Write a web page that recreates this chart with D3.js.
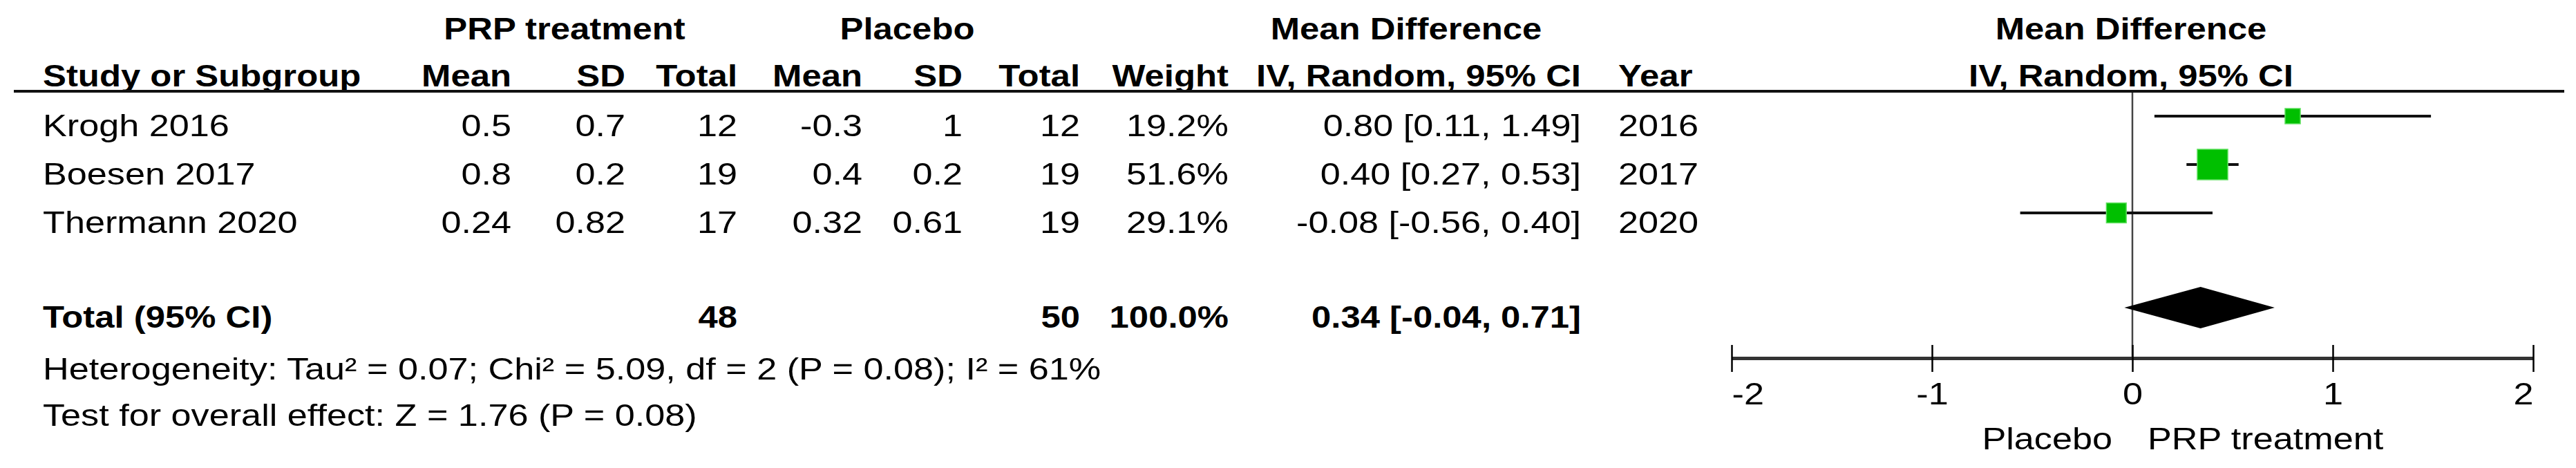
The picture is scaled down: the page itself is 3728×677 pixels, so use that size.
<!DOCTYPE html>
<html>
<head>
<meta charset="utf-8">
<script src="https://cdn.jsdelivr.net/npm/d3@7"></script>
<style>
  html, body { margin: 0; padding: 0; background: #fff; }
  svg { display: block; }
  text { font-family: "Liberation Sans", Arial, sans-serif; fill: #000; }
</style>
</head>
<body>
<svg id="chart" width="3728" height="677"></svg>
<script>
// ---------- DATA ----------
const studies   = ["Krogh 2016", "Boesen 2017", "Thermann 2020"];
const prpMean   = [0.5, 0.8, 0.24];
const prpSD     = [0.7, 0.2, 0.82];
const prpTotal  = [12, 19, 17];
const plcMean   = [-0.3, 0.4, 0.32];
const plcSD     = [1, 0.2, 0.61];
const plcTotal  = [12, 19, 19];
const weights   = [19.2, 51.6, 29.1];
const meanDiff  = [0.80, 0.40, -0.08];
const ciLow     = [0.11, 0.27, -0.56];
const ciHigh    = [1.49, 0.53, 0.40];
const years     = [2016, 2017, 2020];

const totalLabel    = "Total (95% CI)";
const totalPrp      = 48;
const totalPlc      = 50;
const totalWeight   = 100.0;
const totalMD       = 0.34;
const totalLow      = -0.04;
const totalHigh     = 0.71;

const heterogeneityText = "Heterogeneity: Tau\u00B2 = 0.07; Chi\u00B2 = 5.09, df = 2 (P = 0.08); I\u00B2 = 61%";
const overallText       = "Test for overall effect: Z = 1.76 (P = 0.08)";

const axisTicks   = [-2, -1, 0, 1, 2];
const favourLeft  = "Placebo";
const favourRight = "PRP treatment";

const groupHeaders  = ["PRP treatment", "Placebo", "Mean Difference", "Mean Difference"];
const columnHeaders = ["Study or Subgroup", "Mean", "SD", "Total", "Mean", "SD", "Total", "Weight", "IV, Random, 95% CI", "Year", "IV, Random, 95% CI"];

// ---------- LAYOUT ----------
const SX_REG = 1.16;       // horizontal stretch of the bitmap-like text
const SX_BOLD = 1.13;
const FS = 45;
const svg = d3.select("#chart");
svg.append("rect").attr("width", 3728).attr("height", 677).attr("fill", "#fff");

const loc = d3.formatLocale({decimal: ".", thousands: ",", grouping: [3], currency: ["", ""], minus: "-"});
const f2 = loc.format(".2f");
const f1 = loc.format(".1f");
const plain = v => String(v);

function txt(x, y, s, anchor, bold, size) {
  return svg.append("text")
    .attr("transform", `translate(${x},${y}) scale(${bold ? SX_BOLD : SX_REG},1)`)
    .attr("text-anchor", anchor || "start")
    .style("font-size", (size || FS) + "px")
    .style("font-weight", bold ? "bold" : "normal")
    .text(s);
}

// column anchors
const colX = {
  study: 62, prpMean: 740, prpSD: 905, prpTotal: 1067,
  plcMean: 1248, plcSD: 1393, plcTotal: 1563, weight: 1778,
  ci: 2288, year: 2342, plot: 3084
};

// Headers
txt(817, 57, groupHeaders[0], "middle", true);
txt(1313, 57, groupHeaders[1], "middle", true);
txt(2035, 57, groupHeaders[2], "middle", true);
txt(colX.plot, 57, groupHeaders[3], "middle", true);

const hy = 125;
txt(colX.study, hy, columnHeaders[0], "start", true);
txt(colX.prpMean, hy, columnHeaders[1], "end", true);
txt(colX.prpSD, hy, columnHeaders[2], "end", true);
txt(colX.prpTotal, hy, columnHeaders[3], "end", true);
txt(colX.plcMean, hy, columnHeaders[4], "end", true);
txt(colX.plcSD, hy, columnHeaders[5], "end", true);
txt(colX.plcTotal, hy, columnHeaders[6], "end", true);
txt(colX.weight, hy, columnHeaders[7], "end", true);
txt(colX.ci, hy, columnHeaders[8], "end", true);
txt(colX.year, hy, columnHeaders[9], "start", true);
txt(colX.plot, hy, columnHeaders[10], "middle", true);

// header rule
svg.append("line").attr("x1", 20).attr("x2", 3711).attr("y1", 132).attr("y2", 132)
  .attr("stroke", "#111").attr("stroke-width", 4);

// ---------- SCALES ----------
const x = d3.scaleLinear().domain([-2, 2]).range([2506, 3666]);
const yRow = d3.scalePoint().domain(studies).range([168, 308]);
const boxSize = d3.scaleLinear().domain([0, 100]).range([9, 77]);
const textOffset = 29;

// zero line
const axisY = 518;
svg.append("line").attr("x1", x(0)).attr("x2", x(0)).attr("y1", 134).attr("y2", axisY)
  .attr("stroke", "#444").attr("stroke-width", 2.5);

// ---------- STUDY ROWS ----------
const rows = studies.map((s, i) => ({
  study: s, pm: prpMean[i], psd: prpSD[i], pn: prpTotal[i],
  cm: plcMean[i], csd: plcSD[i], cn: plcTotal[i],
  w: weights[i], md: meanDiff[i], lo: ciLow[i], hi: ciHigh[i], yr: years[i]
}));

rows.forEach(r => {
  const by = yRow(r.study) + textOffset;
  txt(colX.study, by, r.study, "start");
  txt(colX.prpMean, by, plain(r.pm), "end");
  txt(colX.prpSD, by, plain(r.psd), "end");
  txt(colX.prpTotal, by, plain(r.pn), "end");
  txt(colX.plcMean, by, plain(r.cm), "end");
  txt(colX.plcSD, by, plain(r.csd), "end");
  txt(colX.plcTotal, by, plain(r.cn), "end");
  txt(colX.weight, by, f1(r.w) + "%", "end");
  txt(colX.ci, by, `${f2(r.md)} [${f2(r.lo)}, ${f2(r.hi)}]`, "end");
  txt(colX.year, by, plain(r.yr), "start");
});

const marks = svg.append("g");
marks.selectAll("line.ci").data(rows).join("line")
  .attr("class", "ci")
  .attr("x1", d => x(d.lo)).attr("x2", d => x(d.hi))
  .attr("y1", d => yRow(d.study)).attr("y2", d => yRow(d.study))
  .attr("stroke", "#111").attr("stroke-width", 4);

marks.selectAll("rect.box").data(rows).join("rect")
  .attr("class", "box")
  .attr("x", d => x(d.md) - boxSize(d.w) / 2)
  .attr("y", d => yRow(d.study) - boxSize(d.w) / 2)
  .attr("width", d => boxSize(d.w))
  .attr("height", d => boxSize(d.w))
  .attr("fill", "#00bf00")
  .attr("stroke", "#5fe05f").attr("stroke-width", 1.5);

// ---------- TOTAL ROW ----------
const totY = 445;
const totBase = 474;
txt(colX.study, totBase, totalLabel, "start", true);
txt(colX.prpTotal, totBase, plain(totalPrp), "end", true);
txt(colX.plcTotal, totBase, plain(totalPlc), "end", true);
txt(colX.weight, totBase, f1(totalWeight) + "%", "end", true);
txt(colX.ci, totBase, `${f2(totalMD)} [${f2(totalLow)}, ${f2(totalHigh)}]`, "end", true);

svg.append("path")
  .datum([[totalLow, 0], [totalMD, -1], [totalHigh, 0], [totalMD, 1]])
  .attr("d", d => "M" + d.map(p => [x(p[0]), totY + p[1] * 30].join(",")).join("L") + "Z")
  .attr("fill", "#000");

// ---------- FOOTNOTES ----------
txt(colX.study, 549, heterogeneityText, "start");
txt(colX.study, 616, overallText, "start");

// ---------- AXIS ----------
const axisG = svg.append("g").attr("transform", `translate(0,${axisY})`)
  .call(d3.axisBottom(x).tickValues(axisTicks).tickSize(0).tickFormat(loc.format("d")));
axisG.select(".domain").attr("stroke", "#333").attr("stroke-width", 5);
axisG.selectAll(".tick line").attr("y1", -19).attr("y2", 20)
  .attr("stroke", "#000").attr("stroke-width", 2.5);
axisG.selectAll(".tick text")
  .attr("y", 0).attr("dy", 0)
  .attr("transform", `translate(0,67) scale(${SX_REG},1)`)
  .attr("text-anchor", (d, i, n) => i === 0 ? "start" : (i === n.length - 1 ? "end" : "middle"))
  .style("font-size", FS + "px")
  .style("font-family", "'Liberation Sans', Arial, sans-serif")
  .attr("fill", "#000");

txt(x(0) - 29, 650, favourLeft, "end");
txt(x(0) + 22, 650, favourRight, "start");
</script>
</body>
</html>
